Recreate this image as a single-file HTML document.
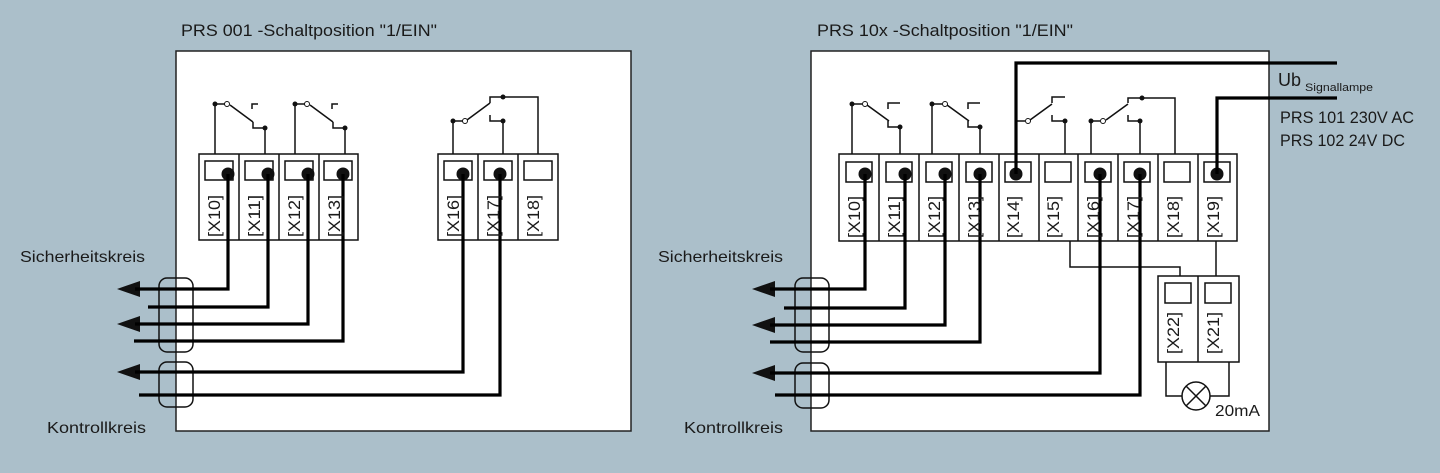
<!DOCTYPE html>
<html><head><meta charset="utf-8"><style>
html,body{margin:0;padding:0;background:#abbfca;}
svg{display:block}
text{font-family:"Liberation Sans",sans-serif;fill:#1a1a1a}
</style></head><body>
<svg width="1440" height="473" viewBox="0 0 1440 473" xmlns="http://www.w3.org/2000/svg">
<rect width="1440" height="473" fill="#abbfca"/>
<text x="181" y="36" font-size="17" textLength="256" lengthAdjust="spacingAndGlyphs">PRS 001 -Schaltposition "1/EIN"</text>
<text x="817" y="36" font-size="17" textLength="256" lengthAdjust="spacingAndGlyphs">PRS 10x -Schaltposition "1/EIN"</text>
<rect x="176" y="51" width="455" height="380" fill="#fff" stroke="#222" stroke-width="1.5"/>
<rect x="811" y="51" width="458" height="380" fill="#fff" stroke="#222" stroke-width="1.5"/>

<g fill="none" stroke="#111" stroke-width="1.5">
<rect x="199" y="154" width="159" height="86"/>
<line x1="239" y1="154" x2="239" y2="240"/><line x1="279" y1="154" x2="279" y2="240"/><line x1="319" y1="154" x2="319" y2="240"/>
<rect x="205" y="161" width="28" height="19"/><rect x="245" y="161" width="28" height="19"/><rect x="285" y="161" width="28" height="19"/><rect x="324" y="161" width="28" height="19"/>
<rect x="438" y="154" width="120" height="86"/>
<line x1="478" y1="154" x2="478" y2="240"/><line x1="518" y1="154" x2="518" y2="240"/>
<rect x="444" y="161" width="28" height="19"/><rect x="484" y="161" width="28" height="19"/><rect x="524" y="161" width="28" height="19"/>
<polyline points="215,154 215,104 225,104"/><line x1="230" y1="105" x2="253" y2="122"/><polyline points="252,109 252,104 258,104"/><polyline points="253,122 253,128 265,128 265,154"/>
<polyline points="295,154 295,104 305,104"/><line x1="310" y1="105" x2="333" y2="122"/><polyline points="332,109 332,104 338,104"/><polyline points="333,122 333,128 345,128 345,154"/>
<polyline points="453,154 453,121 463,121"/><line x1="467" y1="120" x2="490" y2="103"/><polyline points="490,103 490,97 538,97 538,154"/><polyline points="490,115 490,121 503,121 503,154"/>

<rect x="839" y="154" width="398" height="87"/>
<line x1="879" y1="154" x2="879" y2="241"/><line x1="919" y1="154" x2="919" y2="241"/><line x1="959" y1="154" x2="959" y2="241"/><line x1="999" y1="154" x2="999" y2="241"/><line x1="1039" y1="154" x2="1039" y2="241"/><line x1="1078" y1="154" x2="1078" y2="241"/><line x1="1118" y1="154" x2="1118" y2="241"/><line x1="1158" y1="154" x2="1158" y2="241"/><line x1="1198" y1="154" x2="1198" y2="241"/>
<rect x="846" y="162" width="26" height="20"/><rect x="886" y="162" width="26" height="20"/><rect x="926" y="162" width="26" height="20"/><rect x="966" y="162" width="26" height="20"/><rect x="1005" y="162" width="26" height="20"/><rect x="1045" y="162" width="26" height="20"/><rect x="1085" y="162" width="26" height="20"/><rect x="1124" y="162" width="26" height="20"/><rect x="1164" y="162" width="26" height="20"/><rect x="1204" y="162" width="26" height="20"/>
<polyline points="852,154 852,104 862,104"/><line x1="867" y1="105" x2="889" y2="121"/><polyline points="888,109 888,103 900,103"/><polyline points="888,121 888,127 900,127 900,154"/>
<polyline points="932,154 932,104 942,104"/><line x1="947" y1="105" x2="969" y2="121"/><polyline points="968,109 968,103 980,103"/><polyline points="968,121 968,127 980,127 980,154"/>
<line x1="1015" y1="121" x2="1025" y2="121"/><line x1="1030" y1="120" x2="1052" y2="104"/><polyline points="1052,103 1052,97 1065,97"/><polyline points="1052,115 1052,121 1065,121 1065,154"/>
<polyline points="1091,154 1091,121 1100,121"/><line x1="1106" y1="120" x2="1128" y2="104"/><polyline points="1128,103 1128,98 1175,98 1175,154"/><polyline points="1128,115 1128,121 1140,121 1140,154"/>
<polyline points="1070,241 1070,267 1180,267 1180,276"/><line x1="1216" y1="241" x2="1216" y2="276"/>
<rect x="1158" y="276" width="81" height="86"/><line x1="1198" y1="276" x2="1198" y2="362"/>
<rect x="1165" y="283" width="26" height="20"/><rect x="1205" y="283" width="26" height="20"/>
<polyline points="1166,362 1166,396 1182,396"/><polyline points="1210,396 1229,396 1229,362"/>
<circle cx="1196" cy="396" r="14"/><line x1="1186" y1="386" x2="1206" y2="406"/><line x1="1206" y1="386" x2="1186" y2="406"/>
<rect x="159" y="278" width="34" height="74" rx="8"/><rect x="159" y="362" width="34" height="45" rx="8"/>
<rect x="795" y="278" width="34" height="74" rx="8"/><rect x="795" y="363" width="34" height="45" rx="8"/>
</g>
<g fill="#fff" stroke="#111" stroke-width="1">
<circle cx="227" cy="104" r="2.5"/><circle cx="307" cy="104" r="2.5"/><circle cx="465" cy="121" r="2.5"/>
<circle cx="865" cy="104" r="2.5"/><circle cx="945" cy="104" r="2.5"/><circle cx="1028" cy="121" r="2.5"/><circle cx="1103" cy="121" r="2.5"/>
</g>
<g fill="#111">
<circle cx="215" cy="104" r="2.5"/><circle cx="265" cy="128" r="2.5"/><circle cx="295" cy="104" r="2.5"/><circle cx="345" cy="128" r="2.5"/>
<circle cx="453" cy="121" r="2.5"/><circle cx="503" cy="97" r="2.5"/><circle cx="503" cy="121" r="2.5"/>
<circle cx="852" cy="104" r="2.5"/><circle cx="900" cy="127" r="2.5"/><circle cx="932" cy="104" r="2.5"/><circle cx="980" cy="127" r="2.5"/>
<circle cx="1065" cy="121" r="2.5"/><circle cx="1091" cy="121" r="2.5"/><circle cx="1142" cy="98" r="2.5"/><circle cx="1140" cy="121" r="2.5"/>
<circle cx="228" cy="174" r="6.5"/><circle cx="268" cy="174" r="6.5"/><circle cx="308" cy="174" r="6.5"/><circle cx="343" cy="174" r="6.5"/>
<circle cx="463" cy="174" r="6.5"/><circle cx="500" cy="174" r="6.5"/>
<circle cx="865" cy="174" r="6.5"/><circle cx="905" cy="174" r="6.5"/><circle cx="945" cy="174" r="6.5"/><circle cx="980" cy="174" r="6.5"/>
<circle cx="1016" cy="174" r="6.5"/><circle cx="1100" cy="174" r="6.5"/><circle cx="1140" cy="174" r="6.5"/><circle cx="1217" cy="174" r="6.5"/>
<polygon points="117,289 140,281 140,297"/><polygon points="117,324 140,316 140,332"/><polygon points="117,372 140,364 140,380"/>
<polygon points="752,289 775,281 775,297"/><polygon points="752,325 775,317 775,333"/><polygon points="752,373 775,365 775,381"/>
</g>
<g fill="none" stroke="#000" stroke-width="3.2">
<polyline points="228,174 228,289 135,289"/><polyline points="268,174 268,307 148,307"/><polyline points="308,174 308,324 135,324"/><polyline points="343,174 343,341 134,341"/>
<polyline points="463,174 463,372 135,372"/><polyline points="500,174 500,395 139,395"/>
<polyline points="865,174 865,289 770,289"/><polyline points="905,174 905,308 784,308"/><polyline points="945,174 945,325 770,325"/><polyline points="980,174 980,342 770,342"/>
<polyline points="1100,174 1100,373 770,373"/><polyline points="1140,174 1140,395 775,395"/>
<polyline points="1016,174 1016,63 1337,63"/><polyline points="1217,174 1217,98 1337,98"/>
</g>
<g font-size="17">
<text transform="translate(220,237) rotate(-90)" textLength="42" lengthAdjust="spacingAndGlyphs">[X10]</text><text transform="translate(260,237) rotate(-90)" textLength="42" lengthAdjust="spacingAndGlyphs">[X11]</text><text transform="translate(300,237) rotate(-90)" textLength="42" lengthAdjust="spacingAndGlyphs">[X12]</text><text transform="translate(340,237) rotate(-90)" textLength="42" lengthAdjust="spacingAndGlyphs">[X13]</text>
<text transform="translate(459,237) rotate(-90)" textLength="42" lengthAdjust="spacingAndGlyphs">[X16]</text><text transform="translate(499,237) rotate(-90)" textLength="42" lengthAdjust="spacingAndGlyphs">[X17]</text><text transform="translate(539,237) rotate(-90)" textLength="42" lengthAdjust="spacingAndGlyphs">[X18]</text>
<text transform="translate(860,238) rotate(-90)" textLength="42" lengthAdjust="spacingAndGlyphs">[X10]</text><text transform="translate(900,238) rotate(-90)" textLength="42" lengthAdjust="spacingAndGlyphs">[X11]</text><text transform="translate(940,238) rotate(-90)" textLength="42" lengthAdjust="spacingAndGlyphs">[X12]</text><text transform="translate(980,238) rotate(-90)" textLength="42" lengthAdjust="spacingAndGlyphs">[X13]</text>
<text transform="translate(1019,238) rotate(-90)" textLength="42" lengthAdjust="spacingAndGlyphs">[X14]</text><text transform="translate(1059,238) rotate(-90)" textLength="42" lengthAdjust="spacingAndGlyphs">[X15]</text><text transform="translate(1099,238) rotate(-90)" textLength="42" lengthAdjust="spacingAndGlyphs">[X16]</text><text transform="translate(1139,238) rotate(-90)" textLength="42" lengthAdjust="spacingAndGlyphs">[X17]</text>
<text transform="translate(1179,238) rotate(-90)" textLength="42" lengthAdjust="spacingAndGlyphs">[X18]</text><text transform="translate(1219,238) rotate(-90)" textLength="42" lengthAdjust="spacingAndGlyphs">[X19]</text>
<text transform="translate(1179,354) rotate(-90)" textLength="42" lengthAdjust="spacingAndGlyphs">[X22]</text><text transform="translate(1219,354) rotate(-90)" textLength="42" lengthAdjust="spacingAndGlyphs">[X21]</text>
</g>
<g font-size="16">
<text x="20" y="262" textLength="125" lengthAdjust="spacingAndGlyphs">Sicherheitskreis</text>
<text x="47" y="433" textLength="99" lengthAdjust="spacingAndGlyphs">Kontrollkreis</text>
<text x="658" y="262" textLength="125" lengthAdjust="spacingAndGlyphs">Sicherheitskreis</text>
<text x="684" y="433" textLength="99" lengthAdjust="spacingAndGlyphs">Kontrollkreis</text>
<text x="1215" y="416" textLength="45" lengthAdjust="spacingAndGlyphs">20mA</text>
</g>
<text x="1278" y="86" font-size="18">Ub</text>
<text x="1305" y="91" font-size="11" textLength="68" lengthAdjust="spacingAndGlyphs">Signallampe</text>
<text x="1280" y="123" font-size="17" textLength="134" lengthAdjust="spacingAndGlyphs">PRS 101 230V AC</text>
<text x="1280" y="146" font-size="17" textLength="125" lengthAdjust="spacingAndGlyphs">PRS 102 24V DC</text>
</svg>
</body></html>
